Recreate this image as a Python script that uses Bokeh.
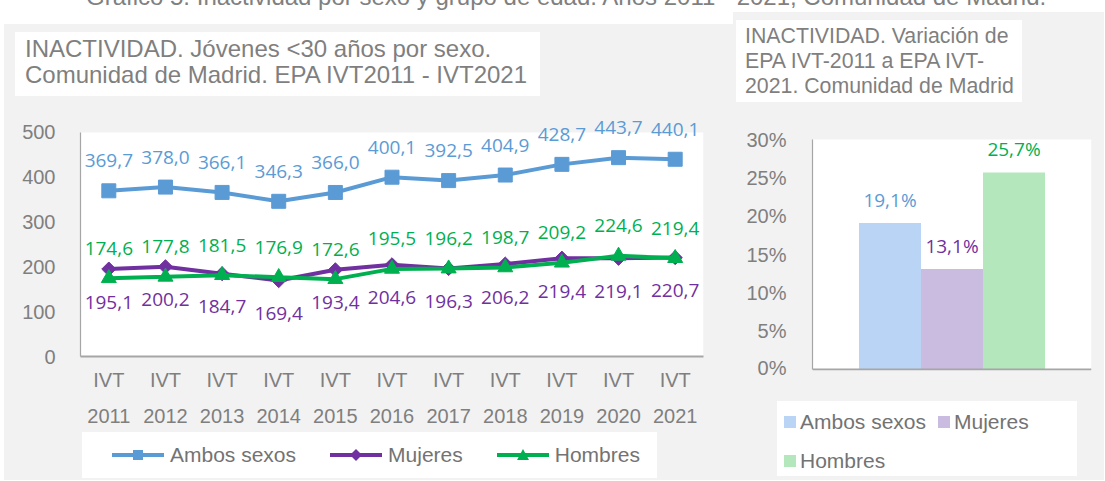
from bokeh.plotting import figure
from bokeh.models import (ColumnDataSource, Range1d, FactorRange, FixedTicker, LabelSet,
                          Div, NumeralTickFormatter, BoxAnnotation, Span)
from bokeh.layouts import row, column
from bokeh.embed import file_html
from bokeh.resources import INLINE
from bokeh.core.properties import value
import math

# ---------------- data ----------------
years = ["2011", "2012", "2013", "2014", "2015", "2016", "2017", "2018", "2019", "2020", "2021"]
periods = ["IVT\n" + y for y in years]
ambos = [369.7, 378.0, 366.1, 346.3, 366.0, 400.1, 392.5, 404.9, 428.7, 443.7, 440.1]
mujeres = [195.1, 200.2, 184.7, 169.4, 193.4, 204.6, 196.3, 206.2, 219.4, 219.1, 220.7]
hombres = [174.6, 177.8, 181.5, 176.9, 172.6, 195.5, 196.2, 198.7, 209.2, 224.6, 219.4]
y_ticks = [0, 100, 200, 300, 400, 500]
y_max = 500

sexes = ["Ambos sexos", "Mujeres", "Hombres"]
variation = [0.191, 0.131, 0.257]
pct_ticks = [0, 0.05, 0.10, 0.15, 0.20, 0.25, 0.30]
pct_max = 0.30

header = "Gráfico 5. Inactividad por sexo y grupo de edad. Años 2011 - 2021, Comunidad de Madrid."
title_left = ["INACTIVIDAD. Jóvenes &lt;30 años por sexo.", "Comunidad de Madrid. EPA IVT2011 - IVT2021"]
title_right = ["INACTIVIDAD. Variación de", "EPA IVT-2011 a EPA IVT-", "2021. Comunidad de Madrid"]

# ---------------- style ----------------
BLUE = "#5b9bd5"
PURPLE = "#7030a0"
GREEN = "#00b050"
BAR_FILL = ["#bad4f6", "#cabbe0", "#b5e7bd"]
GRAY_TXT = "#7f7f7f"
LEG_TXT = "#737373"
PANEL = "#f2f2f2"
AXIS = "#a6a6a6"
SANS = "Liberation Sans"
LBL = "Open Sans"


def fmt(v):
    return f"{v:.1f}".replace(".", ",")


def title_div(lines, size, lh, pad_top, pad_left, width, height, margin):
    html = (f'<div style="font-family:\'{SANS}\'; font-size:{size}px; line-height:{lh}px; '
            f'color:{GRAY_TXT}; padding:{pad_top}px 0 0 {pad_left}px; white-space:nowrap;">'
            + "<br>".join(lines) + "</div>")
    return Div(text=html, width=width, height=height, margin=margin,
               styles={"background-color": "white", "overflow": "hidden"})


# ---------------- left chart ----------------
src = ColumnDataSource(dict(
    period=periods, ambos=ambos, mujeres=mujeres, hombres=hombres,
    ambos_txt=[fmt(v) for v in ambos],
    mujeres_txt=[fmt(v) for v in mujeres],
    hombres_txt=[fmt(v) for v in hombres],
))

FH1, PH1 = 245, 225      # frame height, plot-area height (px)
p1 = figure(x_range=FactorRange(factors=periods), y_range=Range1d(0, y_max * FH1 / PH1),
            width=729, height=16 + FH1 + 72, output_backend="svg", toolbar_location=None,
            min_border_left=76, min_border_right=30, min_border_top=16, min_border_bottom=72,
            margin=(0, 0, 0, 0))
p1.background_fill_color = PANEL
p1.border_fill_color = PANEL
p1.outline_line_color = None
p1.grid.visible = False
p1.add_layout(BoxAnnotation(bottom=0, top=y_max, fill_color="white", fill_alpha=1,
                            line_color=None, level="underlay"))

for col, color, marker, size, angle in [("ambos", BLUE, "square", 14, 0),
                                       ("mujeres", PURPLE, "square", 10, math.pi / 4),
                                       ("hombres", GREEN, "triangle", 15, 0)]:
    p1.line("period", col, source=src, line_color=color, line_width=4)
    p1.scatter("period", col, source=src, marker=marker, size=size, angle=angle,
               fill_color=color, line_color=color)

for col, color, off in [("ambos", BLUE, 30), ("hombres", GREEN, 30), ("mujeres", PURPLE, -33)]:
    p1.add_layout(LabelSet(x="period", y=col, text=col + "_txt", source=src, y_offset=off,
                           text_align="center", text_baseline="middle",
                           text_font=value(LBL), text_font_size="19px", text_color=color))

p1.yaxis.ticker = FixedTicker(ticks=y_ticks)
p1.yaxis.bounds = (0, y_max)
for ax in (p1.xaxis[0], p1.yaxis[0]):
    ax.major_tick_line_color = None
    ax.minor_tick_line_color = None
    ax.axis_line_color = AXIS
    ax.major_label_text_font = SANS
    ax.major_label_text_font_size = "20px"
    ax.major_label_text_color = GRAY_TXT
p1.yaxis.axis_line_width = 1.2
p1.xaxis.axis_line_width = 2
p1.yaxis.major_label_standoff = 19
p1.xaxis.major_label_standoff = 6
p1.xaxis.major_label_text_line_height = 1.65

# legend (HTML) for the line chart
line_glyphs = {
    "Ambos sexos": (BLUE, '<rect x="21" y="5" width="10" height="10" fill="%s"/>'),
    "Mujeres": (PURPLE, '<polygon points="26,4 32,10 26,16 20,10" fill="%s"/>'),
    "Hombres": (GREEN, '<polygon points="26,4 32,15 20,15" fill="%s"/>'),
}
leg1_html = (f'<div style="display:flex; align-items:center; height:46px; padding-left:30px; '
             f'font-family:\'{SANS}\'; font-size:21px; color:{LEG_TXT}; white-space:nowrap;">')
for s in sexes:
    c, mk = line_glyphs[s]
    leg1_html += (f'<svg width="52" height="20" style="flex:none"><line x1="0" y1="10" x2="52" y2="10" '
                  f'stroke="{c}" stroke-width="4"/>' + (mk % c) + '</svg>'
                  f'<span style="margin-left:6px; margin-right:34px;">{s}</span>')
leg1_html += "</div>"
leg1 = Div(text=leg1_html, width=575, height=46, margin=(3, 0, 0, 78),
           styles={"background-color": "white", "overflow": "hidden"})

t1 = title_div(title_left, 24, 26, 4, 10, 525, 64, (8, 0, 0, 11))
left_panel = column(t1, p1, leg1, width=729, height=456, margin=(12, 0, 0, 4),
                    styles={"background-color": PANEL})

# ---------------- right chart ----------------
src2 = ColumnDataSource(dict(
    sex=sexes, var=variation, fill=BAR_FILL,
    label_color=[BLUE, PURPLE, GREEN],
    txt=[fmt(v * 100) + "%" for v in variation],
))

PH2 = 230
u = pct_max / PH2        # data units per pixel
p2 = figure(x_range=FactorRange(factors=sexes, range_padding=0.5),
            y_range=Range1d(-1 * u, 244 * u),
            width=371, height=23 + 245 + 8, output_backend="svg", toolbar_location=None,
            min_border_left=79, min_border_right=13, min_border_top=23, min_border_bottom=8,
            margin=(0, 0, 0, 0))
p2.background_fill_color = PANEL
p2.border_fill_color = PANEL
p2.outline_line_color = None
p2.grid.visible = False
p2.add_layout(BoxAnnotation(bottom=0, top=pct_max, fill_color="white", fill_alpha=1,
                            line_color=None, level="underlay"))
p2.vbar(x="sex", top="var", width=1.0, source=src2, fill_color="fill", line_color=None)
p2.add_layout(Span(location=0, dimension="width", line_color=AXIS, line_width=2))
p2.add_layout(LabelSet(x="sex", y="var", text="txt", source=src2, y_offset=23,
                       text_align="center", text_baseline="middle",
                       text_font=value(LBL), text_font_size="19px", text_color="label_color"))
p2.xaxis.visible = False
p2.yaxis.ticker = FixedTicker(ticks=pct_ticks)
p2.yaxis.bounds = (0, pct_max)
p2.yaxis.formatter = NumeralTickFormatter(format="0%")
p2.yaxis.major_tick_line_color = None
p2.yaxis.minor_tick_line_color = None
p2.yaxis.axis_line_color = AXIS
p2.yaxis.axis_line_width = 1.2
p2.yaxis.major_label_text_font = SANS
p2.yaxis.major_label_text_font_size = "20px"
p2.yaxis.major_label_text_color = GRAY_TXT
p2.yaxis.major_label_standoff = 20

leg2_html = (f'<div style="display:flex; flex-wrap:wrap; width:300px; padding:1px 0 0 7px; '
             f'font-family:\'{SANS}\'; font-size:21px; color:{LEG_TXT}; white-space:nowrap;">')
for s, c, w in zip(sexes, BAR_FILL, [154, 110, 154]):
    leg2_html += (f'<div style="display:flex; align-items:center; height:39px; width:{w}px;">'
                  f'<span style="display:inline-block; width:12px; height:12px; background:{c}; '
                  f'margin-right:4px; flex:none"></span>{s}</div>')
leg2_html += "</div>"
leg2 = Div(text=leg2_html, width=300, height=75, margin=(23, 0, 0, 44),
           styles={"background-color": "white", "overflow": "hidden"})

t2 = title_div(title_right, 21.3, 25, 4, 9, 286, 82, (8, 0, 0, 3))
right_panel = column(t2, p2, leg2, width=371, height=468, margin=(0, 0, 0, 0),
                     styles={"background-color": PANEL})

# ---------------- header (cut at top like the reference) ----------------
head = Div(text=('<div style="position:relative; top:-15px; padding-left:86px; white-space:nowrap; '
                 f'font-family:\'{SANS}\'; font-size:24px; line-height:24px; color:#808080;">'
                 + header + '</div>'),
           width=1104, height=12, margin=(0, 0, 0, 0), styles={"overflow": "hidden"})

layout = column(head, row(left_panel, right_panel))

with open("out.html", "w", encoding="utf-8") as f:
    f.write(file_html(layout, INLINE))
